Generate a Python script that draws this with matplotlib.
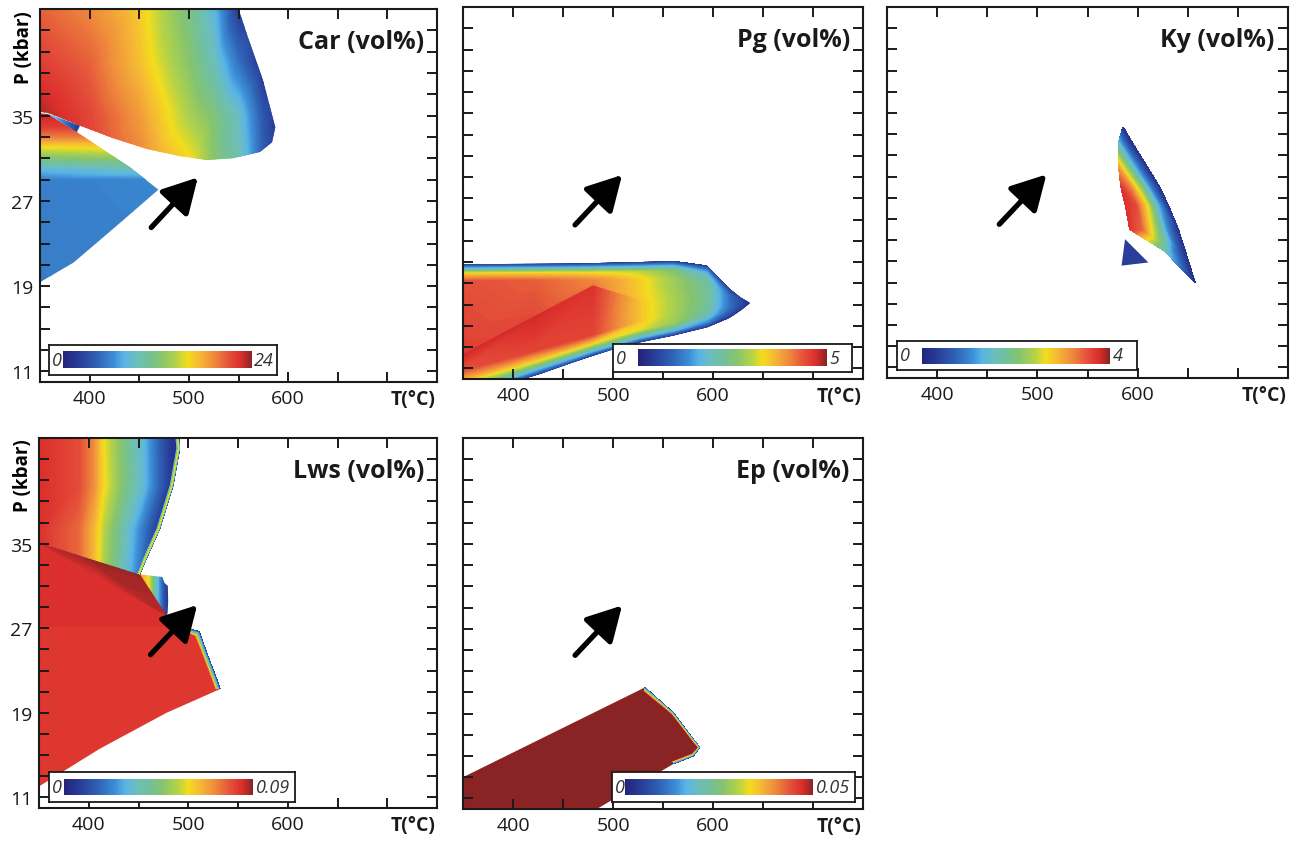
import numpy as np
import matplotlib
matplotlib.use('Agg')
import matplotlib.pyplot as plt
from matplotlib.colors import LinearSegmentedColormap, Normalize
from matplotlib.patches import Polygon
from matplotlib.tri import Triangulation
from matplotlib import colorbar

plt.rcParams['font.family'] = ['Open Sans', 'DejaVu Sans']

#--------------------------------------------------
# abundance colour scale (0 -> max)
scale_pos = [0.0, 0.08, 0.18, 0.27, 0.32, 0.38, 0.45, 0.52, 0.60, 0.66, 0.72, 0.80, 0.88, 0.94, 1.0]
scale_col = ['#24237a', '#283c97', '#2f62b5', '#3d8fd6', '#58b4e6', '#6bbdc0', '#72c09a',
             '#86c46e', '#b4d248', '#f4dc1c', '#f5b935', '#ef8a3c', '#e4503a', '#dc2f2c', '#8a2424']
cmap = LinearSegmentedColormap.from_list('vol', list(zip(scale_pos, scale_col)))

# axes
t_ticks = list(range(350, 751, 50))
t_labels = [400, 500, 600]
p_ticks = list(range(11, 44, 2))
p_labels = [11, 19, 27, 35]

# P-T path arrow
arrow_tail = (462, 24.5)
arrow_head = (509, 29.2)

#--------------------------------------------------
# Car: upper field
car_max = 24
car_a_T = [345, 400, 450, 500, 525, 550, 575, 600]
car_a_P = [30, 35, 40, 45.5]
car_a_V = [[24.0, 22.0, 19.5, 16.3, 12.5, 10.0, 4.0, 0.0],
           [23.5, 21.5, 18.5, 14.0, 12.0, 9.0, 3.5, 0.0],
           [22.0, 20.5, 17.0, 12.5, 9.5, 5.0, 1.0, 0.0],
           [20.5, 19.0, 16.5, 11.5, 8.0, 1.5, 0.0, 0.0]]
car_a_edge = [(345, 45.5), (550, 45.5), (550, 45), (560, 42.2), (575, 38.2), (587, 33.9),
              (583.7, 32.5), (571.7, 31.6), (544.5, 31.0), (518, 30.84), (491, 31.2),
              (457.5, 31.87), (423.9, 32.87), (390.3, 34.05), (358, 35.25), (345, 35.4)]
# Car: lower-left field
car_b_T = [345, 470]
car_b_P = [19, 29.0, 30.0, 31.0, 32.0, 33.0, 34.0, 35.5]
car_b_V = [[5.5, 5.5],
           [5.7, 6.0],
           [8.0, 9.5],
           [12.0, 13.0],
           [15.5, 16.5],
           [19.5, 19.5],
           [22.0, 21.5],
           [23.5, 23.0]]
car_b_edge = [(345, 35.25), (358, 35.15), (387, 33.45), (407, 32.2), (440.7, 30.15),
              (469.2, 28.05), (427.3, 24.67), (383.6, 21.2), (350, 19.37), (345, 19.1)]
# Car: thin wedge between the two
car_c_T = [350, 392]
car_c_P = [33, 36]
car_c_V = [[12, 1], [12, 1]]
car_c_edge = [(356, 35.25), (390.3, 34.05), (387, 33.45)]

#--------------------------------------------------
# Pg: one field, nodes listed per T column (lower rim -> upper rim)
pg_max = 5
pg_T = [345, 420, 480, 527, 560, 594, 617, 637]
pg_P_cols = [[7.9, 8.6, 9.6, 10.7, 12.0, 12.1, 19.2, 19.9, 20.35, 20.8],
             [10.25, 10.85, 11.65, 12.65, 15.75, 15.85, 19.25, 19.95, 20.4, 20.85],
             [12.2, 12.7, 13.4, 14.2, 18.7, 18.8, 19.3, 20.0, 20.45, 20.9],
             [13.45, 13.95, 14.65, 15.45, 17.3, 17.4, 19.4, 20.1, 20.55, 21.0],
             [14.08, 14.58, 15.28, 16.08, 17.6, 17.7, 19.5, 20.2, 20.65, 21.1],
             [14.86, 15.3, 15.9, 16.6, 17.8, 17.9, 19.1, 19.8, 20.25, 20.66],
             [15.8, 16.1, 16.5, 16.9, 17.2, 17.3, 17.6, 17.9, 18.2, 18.46],
             [17.0, 17.03, 17.06, 17.09, 17.12, 17.15, 17.18, 17.21, 17.24, 17.27]]
pg_V_cols = [[0.3, 1.8, 3.4, 4.4, 4.75, 4.55, 4.4, 3.4, 1.8, 0.3],
             [0.3, 1.8, 3.4, 4.5, 4.75, 4.45, 4.3, 3.4, 1.8, 0.3],
             [0.3, 1.8, 3.4, 4.5, 4.65, 4.1, 4.0, 3.3, 1.8, 0.3],
             [0.3, 1.8, 3.2, 3.5, 3.5, 3.45, 3.4, 3.0, 1.7, 0.3],
             [0.3, 1.7, 2.8, 2.9, 2.9, 2.9, 2.8, 2.5, 1.6, 0.3],
             [0.3, 1.2, 1.9, 2.2, 2.3, 2.3, 2.2, 1.8, 1.2, 0.3],
             [0.3, 0.6, 0.9, 1.0, 1.0, 1.0, 1.0, 0.9, 0.6, 0.3],
             [0.2, 0.2, 0.2, 0.2, 0.2, 0.2, 0.2, 0.2, 0.2, 0.2]]
pg_edge = [(345, 20.8), (450, 20.85), (560, 21.1), (587, 21.0), (594, 20.66), (604, 19.7),
           (617, 18.46), (627, 17.7), (637, 17.15), (627, 16.4), (620, 15.95), (614, 15.6),
           (594, 14.86), (560, 14.08), (527, 13.45), (500, 12.8), (460, 11.57), (427, 10.47),
           (410, 10.0), (395, 9.0), (345, 7.5)]

#--------------------------------------------------
# Ky: lens, nodes per P row (left rim -> right rim)
ky_max = 4
ky_P = [33.65, 32.2, 30.0, 28.0, 26.3, 24.0, 22.0, 19.05]
ky_T = [[585.0, 585.25, 585.5, 585.75, 586.0],
        [580.7, 584.3, 587.8, 591.4, 594.9],
        [580.7, 587.9, 595.0, 602.2, 609.3],
        [583.2, 593.0, 602.8, 612.5, 622.3],
        [587.5, 598.3, 609.2, 620.0, 630.8],
        [592.0, 604.2, 616.5, 628.7, 640.9],
        [626.2, 631.6, 636.9, 642.3, 647.6],
        [656.6, 656.8, 657.0, 657.2, 657.4]]
ky_V = [[0.2, 0.2, 0.2, 0.2, 0.2],
        [1.4, 1.0, 0.65, 0.35, 0.15],
        [3.0, 2.2, 1.4, 0.7, 0.15],
        [3.7, 3.2, 2.2, 1.0, 0.15],
        [3.75, 3.55, 2.65, 1.3, 0.15],
        [3.7, 3.4, 2.4, 1.1, 0.15],
        [1.6, 1.3, 0.9, 0.5, 0.15],
        [0.15, 0.15, 0.15, 0.15, 0.15]]
ky_spot_edge = [(587.4, 23.1), (584, 20.6), (610.7, 20.9)]
ky_spot_level = 0.35

#--------------------------------------------------
# Lws
lws_max = 0.09
lws_r1_T = [345, 390, 405, 415, 435, 455, 470, 482, 495]
lws_r1_P = [31.5, 36.4, 40.5, 45.5]
lws_r1_V = [[0.085, 0.076, 0.064, 0.052, 0.034, 0.016, 0.004, 0.0, 0.0],
            [0.085, 0.076, 0.065, 0.054, 0.037, 0.020, 0.006, 0.0, 0.0],
            [0.085, 0.080, 0.071, 0.060, 0.045, 0.031, 0.017, 0.006, 0.0],
            [0.085, 0.080, 0.071, 0.059, 0.044, 0.030, 0.016, 0.006, 0.0]]
lws_r1_edge = [(345, 45.5), (490.5, 45.5), (491.7, 44.0), (485, 40.5), (471.6, 36.4),
               (458, 33.55), (451.5, 32.1), (350, 35.1), (345, 35.25)]
lws_rim1_T = [[490.5, 491.7, 485.0, 471.6, 458.0, 451.5],
              [489.0, 490.2, 483.5, 470.1, 456.5, 450.3],
              [487.0, 488.2, 481.5, 468.1, 454.5, 448.5]]
lws_rim1_P = [[45.5, 44.0, 40.5, 36.4, 33.55, 32.1]] * 3
lws_rim1_V = [[0.0] * 6, [0.058] * 6, [0.014] * 6]

lws_d_T = [[350, 400, 451.5], [350, 415, 478.5]]
lws_d_P = [[35.1, 33.6, 32.1], [35.1, 31.6, 28.2]]
lws_d_V = [[0.086, 0.0885, 0.0885], [0.0845, 0.0845, 0.087]]

lws_m_T = [445, 455, 461, 465, 470, 475, 481]
lws_m_P = [28, 32.3]
lws_m_V = [[0.075, 0.066, 0.058, 0.044, 0.029, 0.014, 0.004]] * 2
lws_m_edge = [(451.5, 32.1), (474, 31.85), (476, 31.3), (479.5, 31.0), (479.8, 29.5),
              (479.3, 28.5), (478.5, 28.2)]

lws_r2_T = [345, 540]
lws_r2_P = [9, 27.05, 27.2, 36]
lws_r2_V = [[0.083, 0.083], [0.083, 0.083], [0.0845, 0.0845], [0.0845, 0.0845]]
lws_r2_edge = [(345, 35.3), (350, 35.1), (478.5, 28.2), (490, 27.6), (503, 26.9), (511, 26.7),
               (518.5, 24.7), (528.6, 22.2), (532, 21.25), (478, 19.0), (411, 15.6),
               (351, 12.1), (345, 11.8)]
lws_rim2_T = [[503, 511, 518.5, 528.6, 532], [501, 506, 512.5, 522.6, 526]]
lws_rim2_P = [[26.9, 26.7, 24.7, 22.2, 21.25], [26.4, 26.2, 24.7, 22.2, 21.3]]
lws_rim2_V = [[0.005] * 5, [0.083] * 5]

#--------------------------------------------------
# Ep
ep_max = 0.05
ep_level = 0.05
ep_edge = [(345, 12.77), (532, 21.48), (560.3, 19.1), (580.3, 16.6), (587, 15.8),
           (580.3, 15.0), (560.3, 14.25), (483.7, 10.0), (478, 9.5), (345, 9.5)]
ep_rim_T = [[532, 560.3, 580.3, 587, 580.3, 560.3], [530.5, 558.3, 577.8, 583.5, 578.5, 559.5]]
ep_rim_P = [[21.48, 19.1, 16.6, 15.8, 15.0, 14.25], [21.0, 18.85, 16.45, 15.8, 15.3, 14.6]]
ep_rim_V = [[0.002] * 6, [0.05] * 6]


#--------------------------------------------------
def shade(ax, T, P, V, vmax, clip=None):
    # mesh nodes -> triangles, values contoured finely so the colour follows the scale
    V = np.asarray(V, float)
    nr, nc = V.shape
    T = np.asarray(T, float)
    P = np.asarray(P, float)
    if T.ndim == 1:
        T = np.repeat(T[None, :], nr, axis=0)
    if P.ndim == 1:
        P = np.repeat(P[:, None], nc, axis=1)
    x, y = T.ravel(), P.ravel()
    idx = np.arange(nr * nc).reshape(nr, nc)
    a, b = idx[:-1, :-1].ravel(), idx[:-1, 1:].ravel()
    c, d = idx[1:, :-1].ravel(), idx[1:, 1:].ravel()
    tris = np.vstack([np.column_stack([a, b, d]), np.column_stack([a, d, c])])
    x0, y0 = x[tris[:, 0]], y[tris[:, 0]]
    area = np.abs((x[tris[:, 1]] - x0) * (y[tris[:, 2]] - y0)
                  - (x[tris[:, 2]] - x0) * (y[tris[:, 1]] - y0))
    tri = Triangulation(x, y, tris[area > 1e-6])
    cs = ax.tricontourf(tri, V.ravel(), levels=np.linspace(0, vmax, 161), cmap=cmap,
                        extend='both', antialiased=False, zorder=1)
    if clip is not None:
        cs.set_clip_path(Polygon(clip, closed=True, transform=ax.transData))
    return cs


def frame(ax, title, ylab):
    ax.set_xlim(350, 750)
    ax.set_ylim(10, 45)
    ax.set_xticks(t_ticks)
    ax.set_xticklabels([str(t) if t in t_labels else '' for t in t_ticks])
    ax.set_yticks(p_ticks)
    if ylab:
        ax.set_yticklabels([str(p) if p in p_labels else '' for p in p_ticks])
        ax.text(-0.04, 0.90, 'P (kbar)', rotation=90, transform=ax.transAxes,
                ha='center', va='center', fontsize=13.5, fontweight='bold')
    else:
        ax.set_yticklabels([])
    ax.tick_params(direction='in', length=7, width=1.4, top=True, right=True,
                   labelsize=14, pad=5, colors='#1a1a1a')
    for s in ax.spines.values():
        s.set_linewidth(1.5)
        s.set_color('#1a1a1a')
    ax.text(0.995, -0.019, 'T(°C)', transform=ax.transAxes, ha='right', va='top',
            fontsize=14, fontweight='bold', color='#1a1a1a')
    ax.text(0.967, 0.912, title, transform=ax.transAxes, ha='right', va='center',
            fontsize=18, fontweight='bold', color='#1a1a1a')
    ax.annotate('', xy=arrow_head, xytext=arrow_tail, zorder=4,
                arrowprops=dict(arrowstyle='-|>,head_length=1.05,head_width=0.58',
                                mutation_scale=20, lw=3.8, color='black',
                                shrinkA=0, shrinkB=0))


def scale_box(ax, box, bar, vmax):
    bax = ax.inset_axes(box)
    bax.set_xticks([])
    bax.set_yticks([])
    bax.set_facecolor('white')
    for s in bax.spines.values():
        s.set_linewidth(1.3)
        s.set_color('#1a1a1a')
    cax = bax.inset_axes(bar)
    cb = colorbar.ColorbarBase(cax, cmap=cmap, norm=Normalize(0, vmax),
                               orientation='horizontal')
    cb.set_ticks([])
    cb.outline.set_visible(False)
    bax.text(0.012, 0.5, '0', transform=bax.transAxes, ha='left', va='center',
             fontsize=13, style='italic', color='#333333')
    bax.text(bar[0] + bar[2] + 0.01, 0.5, str(vmax), transform=bax.transAxes,
             ha='left', va='center', fontsize=13, style='italic', color='#333333')


#--------------------------------------------------
fig = plt.figure(figsize=(13, 8.45), dpi=100)

ax1 = fig.add_axes([0.0308, 0.5467, 0.3054, 0.4414])
ax2 = fig.add_axes([0.3562, 0.5503, 0.3077, 0.4402])
ax3 = fig.add_axes([0.6823, 0.5515, 0.3085, 0.4390])
ax4 = fig.add_axes([0.0300, 0.0426, 0.3062, 0.4379])
ax5 = fig.add_axes([0.3562, 0.0414, 0.3077, 0.4390])

# Car
shade(ax1, car_a_T, car_a_P, car_a_V, car_max, car_a_edge)
shade(ax1, car_b_T, car_b_P, car_b_V, car_max, car_b_edge)
shade(ax1, car_c_T, car_c_P, car_c_V, car_max, car_c_edge)
frame(ax1, 'Car (vol%)', True)
scale_box(ax1, [0.023, 0.019, 0.574, 0.080], [0.061, 0.233, 0.829, 0.567], car_max)

# Pg
shade(ax2, pg_T, np.transpose(pg_P_cols), np.transpose(pg_V_cols), pg_max, pg_edge)
frame(ax2, 'Pg (vol%)', False)
scale_box(ax2, [0.376, 0.018, 0.596, 0.076], [0.105, 0.233, 0.790, 0.587], pg_max)

# Ky
shade(ax3, ky_T, ky_P, ky_V, ky_max)
ax3.fill(*zip(*ky_spot_edge), color=cmap(ky_spot_level / ky_max), lw=0, zorder=1)
frame(ax3, 'Ky (vol%)', False)
scale_box(ax3, [0.024, 0.022, 0.599, 0.078], [0.104, 0.197, 0.785, 0.573], ky_max)

# Lws
shade(ax4, lws_r2_T, lws_r2_P, lws_r2_V, lws_max, lws_r2_edge)
shade(ax4, lws_rim2_T, lws_rim2_P, lws_rim2_V, lws_max)
shade(ax4, lws_d_T, lws_d_P, lws_d_V, lws_max)
shade(ax4, lws_m_T, lws_m_P, lws_m_V, lws_max, lws_m_edge)
shade(ax4, lws_r1_T, lws_r1_P, lws_r1_V, lws_max, lws_r1_edge)
shade(ax4, lws_rim1_T, lws_rim1_P, lws_rim1_V, lws_max, lws_r1_edge)
frame(ax4, 'Lws (vol%)', True)
scale_box(ax4, [0.026, 0.017, 0.617, 0.0795], [0.060, 0.228, 0.770, 0.542], lws_max)

# Ep
ax5.fill(*zip(*ep_edge), color=cmap(ep_level / ep_max), lw=0, zorder=1)
shade(ax5, ep_rim_T, ep_rim_P, ep_rim_V, ep_max)
frame(ax5, 'Ep (vol%)', False)
scale_box(ax5, [0.372, 0.0197, 0.608, 0.079], [0.055, 0.228, 0.774, 0.542], ep_max)

plt.savefig('out.png', dpi=100, facecolor='white')
